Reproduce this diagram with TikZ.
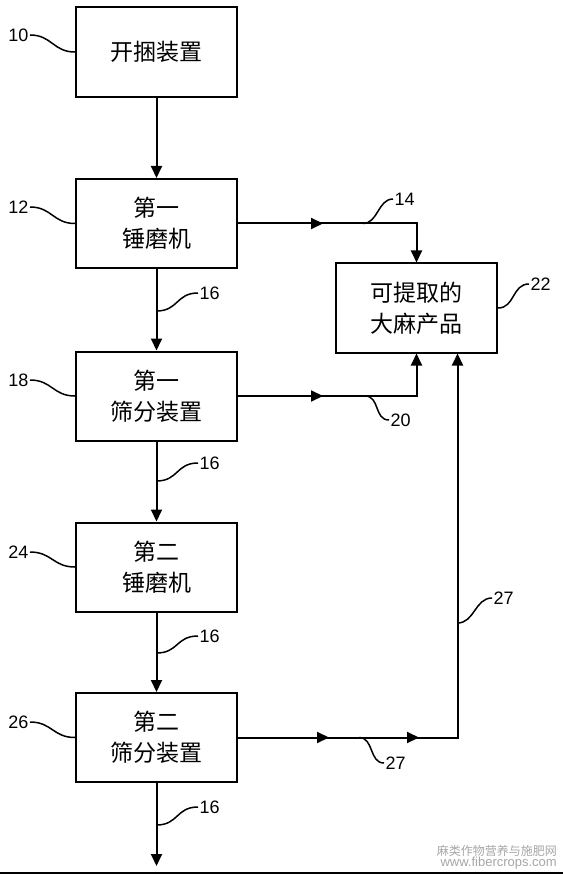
\documentclass[tikz,border=0pt]{standalone}
\usepackage{fontspec}
\setmainfont{Liberation Sans}
\newfontfamily\cjk{Noto Sans CJK SC}
\usetikzlibrary{arrows.meta,decorations.markings}
\begin{document}
\begin{tikzpicture}[x=1pt,y=-1pt,
  box/.style={draw, line width=2pt, minimum width=161pt, minimum height=89pt,
    align=center, inner sep=0pt, font=\cjk\fontsize{23}{31}\selectfont},
  flow/.style={line width=2pt, -{Triangle[length=12pt,width=11pt]}},
  midarrow/.style={postaction={decorate, decoration={markings,
    mark=at position #1 with {\arrow{Triangle[length=12pt,width=11pt]}}}}},
  lead/.style={line width=1.5pt},
  num/.style={inner sep=1.5pt, font=\fontsize{18}{18}\selectfont},
]
\useasboundingbox (0,0) rectangle (563,874);

% boxes
\node[box, minimum height=90pt] (b10) at (156.5,52) {开捆装置};
\node[box] (b12) at (156.5,223.5) {第一\\锤磨机};
\node[box] (b18) at (156.5,396) {第一\\筛分装置};
\node[box] (b24) at (156.5,567) {第二\\锤磨机};
\node[box] (b26) at (156.5,737.5) {第二\\筛分装置};
\node[box] (b22) at (416.5,308) {可提取的\\大麻产品};

% vertical flow
\coordinate (out16) at (156.5,866);
\draw[flow] (b10.south) -- (b12.north);
\draw[flow] (b12.south) -- (b18.north);
\draw[flow] (b18.south) -- (b24.north);
\draw[flow] (b24.south) -- (b26.north);
\draw[flow] (b26.south) -- (out16);

% side flows
\coordinate (in27) at ([xshift=41pt]b22.south);
\draw[flow, midarrow=85pt] (b12.east) -| (b22.north);
\draw[flow, midarrow=85pt] (b18.east) -| (b22.south);
\draw[flow, midarrow=91pt, midarrow=181pt] (b26.east) -| (in27);

% left reference numerals
\node[num, anchor=east] (l10) at (30,35) {10};
\node[num, anchor=east] (l12) at (30,207) {12};
\node[num, anchor=east] (l18) at (30,380) {18};
\node[num, anchor=east] (l24) at (30,552) {24};
\node[num, anchor=east] (l26) at (30,722) {26};
\draw[lead] (l10.east) .. controls +(22,0) and +(-22,0) .. (b10.west);
\draw[lead] (l12.east) .. controls +(22,0) and +(-22,0) .. (b12.west);
\draw[lead] (l18.east) .. controls +(22,0) and +(-22,0) .. (b18.west);
\draw[lead] (l24.east) .. controls +(22,0) and +(-22,0) .. (b24.west);
\draw[lead] (l26.east) .. controls +(22,0) and +(-22,0) .. (b26.west);

% 16 labels
\coordinate (c16a) at (156.5,311);
\coordinate (c16b) at (156.5,481);
\coordinate (c16c) at (156.5,653);
\coordinate (c16d) at (156.5,825);
\node[num, anchor=west] (l16a) at (198,293) {16};
\node[num, anchor=west] (l16b) at (198,463) {16};
\node[num, anchor=west] (l16c) at (198,636) {16};
\node[num, anchor=west] (l16d) at (198,807) {16};
\draw[lead] (c16a) .. controls +(22,0) and +(-22,0) .. (l16a.west);
\draw[lead] (c16b) .. controls +(22,0) and +(-22,0) .. (l16b.west);
\draw[lead] (c16c) .. controls +(22,0) and +(-22,0) .. (l16c.west);
\draw[lead] (c16d) .. controls +(22,0) and +(-22,0) .. (l16d.west);

% right side labels
\coordinate (c14) at (363,223.5);
\coordinate (c20) at (365,396);
\coordinate (c27a) at (359,737.5);
\coordinate (c27b) at (457.5,623);
\node[num, anchor=west] (l14) at (393,199) {14};
\node[num, anchor=west] (l20) at (389,420) {20};
\node[num, anchor=west] (l27a) at (384,763) {27};
\node[num, anchor=west] (l27b) at (492,598) {27};
\node[num, anchor=west] (l22) at (529,284) {22};
\draw[lead] (c14) .. controls +(15,0) and +(-15,0) .. (l14.west);
\draw[lead] (c20) .. controls +(15,0) and +(-15,0) .. (l20.west);
\draw[lead] (c27a) .. controls +(15,0) and +(-15,0) .. (l27a.west);
\draw[lead] (c27b) .. controls +(17,0) and +(-17,0) .. (l27b.west);
\draw[lead] (b22.east) .. controls +(17,0) and +(-17,0) .. (l22.west);

% watermark and bottom edge
\node[anchor=east, inner sep=0pt, text=black!35, font=\cjk\fontsize{12}{12}\selectfont] (wm1) at (557,851) {麻类作物营养与施肥网};
\node[anchor=east, inner sep=0pt, text=black!35, font=\fontsize{13}{13}\selectfont] (wm2) at (557,863) {www.fibercrops.com};
\fill (0,872) rectangle (563,874);
\end{tikzpicture}
\end{document}
